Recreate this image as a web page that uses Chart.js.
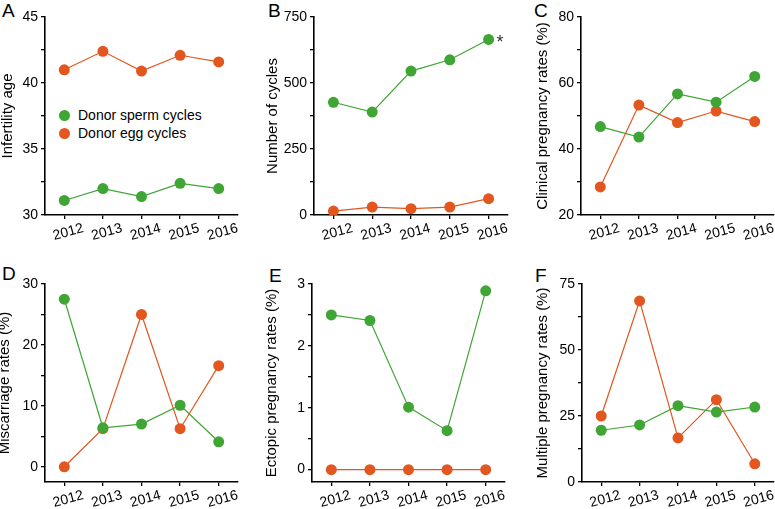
<!DOCTYPE html>
<html>
<head>
<meta charset="utf-8">
<script src="https://cdn.jsdelivr.net/npm/chart.js@4.4.1/dist/chart.umd.min.js"></script>
<style>
  html, body { margin: 0; padding: 0; background: #fff; overflow: hidden; }
  body { position: relative; width: 775px; height: 509px; font-family: "Liberation Sans", Arial, sans-serif; }
  .panel-label { position: absolute; font-size: 19px; line-height: 19px; color: #000; }
  .legend { position: absolute; left: 59px; top: 106px; font-size: 14px; color: #000; }
  .legend div { height: 18px; line-height: 18px; white-space: nowrap; }
  .legend span { display: inline-block; width: 11px; height: 11px; border-radius: 50%; margin-right: 8px; vertical-align: -1px; }
</style>
</head>
<body>
<div class="panel-label" style="left:2px;top:1px">A</div>
<div class="panel-label" style="left:268px;top:1px">B</div>
<div class="panel-label" style="left:534px;top:1px">C</div>
<div class="panel-label" style="left:2px;top:264px">D</div>
<div class="panel-label" style="left:269px;top:266px">E</div>
<div class="panel-label" style="left:535px;top:266px">F</div>
<div class="legend">
  <div><span style="background:#3fa535"></span>Donor sperm cycles</div>
  <div><span style="background:#e2561f"></span>Donor egg cycles</div>
</div>
<script>
// --- DATOS ---
const years = ['2012', '2013', '2014', '2015', '2016'];
const seriesNames = ['Donor sperm cycles', 'Donor egg cycles'];

const ageSperm = [31.1, 32.0, 31.4, 32.4, 32.0];
const ageEgg = [41.0, 42.4, 40.9, 42.1, 41.6];

const cyclesSperm = [427, 390, 545, 588, 665];
const cyclesEgg = [15, 30, 24, 30, 62];

const clinicalSperm = [46.8, 43.6, 56.7, 54.2, 62.0];
const clinicalEgg = [28.5, 53.3, 48.0, 51.5, 48.3];

const miscarriageSperm = [27.5, 6.4, 7.0, 10.1, 4.1];
const miscarriageEgg = [0, 6.25, 25.0, 6.25, 16.6];

const ectopicSperm = [2.50, 2.41, 1.01, 0.63, 2.89];
const ectopicEgg = [0, 0, 0, 0, 0];

const multipleSperm = [19.6, 21.6, 28.9, 26.5, 28.4];
const multipleEgg = [25.0, 68.6, 16.7, 31.2, 6.9];

const GREEN = '#3fa535';
const ORANGE = '#e2561f';
const FONT = '"Liberation Sans", Arial, sans-serif';

// Asterisco junto al último punto de la serie verde (panel B)
const starPlugin = {
    id: 'star',
    afterDatasetsDraw(chart) {
        const pt = chart.getDatasetMeta(0).data[4];
        const ctx = chart.ctx;
        ctx.save();
        ctx.fillStyle = '#333';
        ctx.font = '18px ' + FONT;
        ctx.textAlign = 'left';
        ctx.textBaseline = 'middle';
        ctx.fillText('*', pt.x + 8, pt.y + 4);
        ctx.restore();
    }
};

function crearPanel(p) {
    const canvasLeft = Math.round(p.titleX - 9);
    const yW = p.axisX - canvasLeft;
    const xH = 36;
    const padRight = 8;
    const wrap = document.createElement('div');
    wrap.style.position = 'absolute';
    wrap.style.left = canvasLeft + 'px';
    wrap.style.top = p.rowTop + 'px';
    wrap.style.width = (p.right - canvasLeft + padRight) + 'px';
    wrap.style.height = (p.bottom + xH - p.rowTop) + 'px';
    const cv = document.createElement('canvas');
    wrap.appendChild(cv);
    document.body.appendChild(wrap);

    new Chart(cv, {
        type: 'line',
        data: {
            labels: years,
            datasets: [
                { label: seriesNames[0], data: p.sperm, borderColor: GREEN, backgroundColor: GREEN },
                { label: seriesNames[1], data: p.egg, borderColor: ORANGE, backgroundColor: ORANGE }
            ]
        },
        options: {
            responsive: true,
            maintainAspectRatio: false,
            animation: false,
            layout: { padding: { left: 0, right: padRight, top: p.top - p.rowTop, bottom: 0 } },
            elements: {
                line: { borderWidth: 1.2, tension: 0 },
                point: { radius: 5.5, borderWidth: 0, hoverRadius: 5.5 }
            },
            plugins: { legend: { display: false }, tooltip: { enabled: false } },
            scales: {
                x: {
                    type: 'category',
                    offset: true,
                    grid: { offset: false, drawOnChartArea: false, drawTicks: true, tickLength: 4, color: '#000', lineWidth: 1.3 },
                    border: { color: '#000', width: 1.6 },
                    ticks: {
                        minRotation: 15, maxRotation: 15, labelOffset: 19, padding: 1,
                        color: '#000', font: { size: 14, family: FONT }
                    },
                    afterFit: s => { s.height = xH; }
                },
                y: {
                    min: p.min, max: p.max,
                    grid: { drawOnChartArea: false, drawTicks: true, tickLength: 4, color: '#000', lineWidth: 1.3 },
                    border: { color: '#000', width: 1.6 },
                    ticks: {
                        stepSize: p.step, includeBounds: false, autoSkip: false, padding: 3,
                        color: '#000', font: { size: 14, family: FONT },
                        callback: v => (Math.abs(v / p.major - Math.round(v / p.major)) < 1e-6 ? String(v) : '')
                    },
                    title: {
                        display: true, text: p.title, padding: 0, color: '#000',
                        font: { size: 15, family: FONT }
                    },
                    afterFit: s => { s.width = yW; }
                }
            }
        },
        plugins: p.star ? [starPlugin] : []
    });
}

crearPanel({ title: 'Infertility age', sperm: ageSperm, egg: ageEgg, min: 30, max: 45, step: 2.5, major: 5,
    rowTop: 0, titleX: 8, axisX: 45, right: 238, top: 17, bottom: 215 });
crearPanel({ title: 'Number of cycles', sperm: cyclesSperm, egg: cyclesEgg, min: 0, max: 750, step: 125, major: 250,
    rowTop: 0, titleX: 273, axisX: 314, right: 508, top: 17, bottom: 215, star: true });
crearPanel({ title: 'Clinical pregnancy rates (%)', sperm: clinicalSperm, egg: clinicalEgg, min: 20, max: 80, step: 10, major: 20,
    rowTop: 0, titleX: 543, axisX: 581, right: 774, top: 17, bottom: 215 });
crearPanel({ title: 'Miscarriage rates (%)', sperm: miscarriageSperm, egg: miscarriageEgg, min: -2.5, max: 30, step: 5, major: 10,
    rowTop: 254, titleX: 5, axisX: 45, right: 238, top: 284, bottom: 482 });
crearPanel({ title: 'Ectopic pregnancy rates (%)', sperm: ectopicSperm, egg: ectopicEgg, min: -0.2, max: 3, step: 0.5, major: 1,
    rowTop: 254, titleX: 272, axisX: 312, right: 505, top: 284, bottom: 482 });
crearPanel({ title: 'Multiple pregnancy rates (%)', sperm: multipleSperm, egg: multipleEgg, min: 0, max: 75, step: 12.5, major: 25,
    rowTop: 254, titleX: 543, axisX: 582, right: 774, top: 284, bottom: 482 });
</script>
</body>
</html>
